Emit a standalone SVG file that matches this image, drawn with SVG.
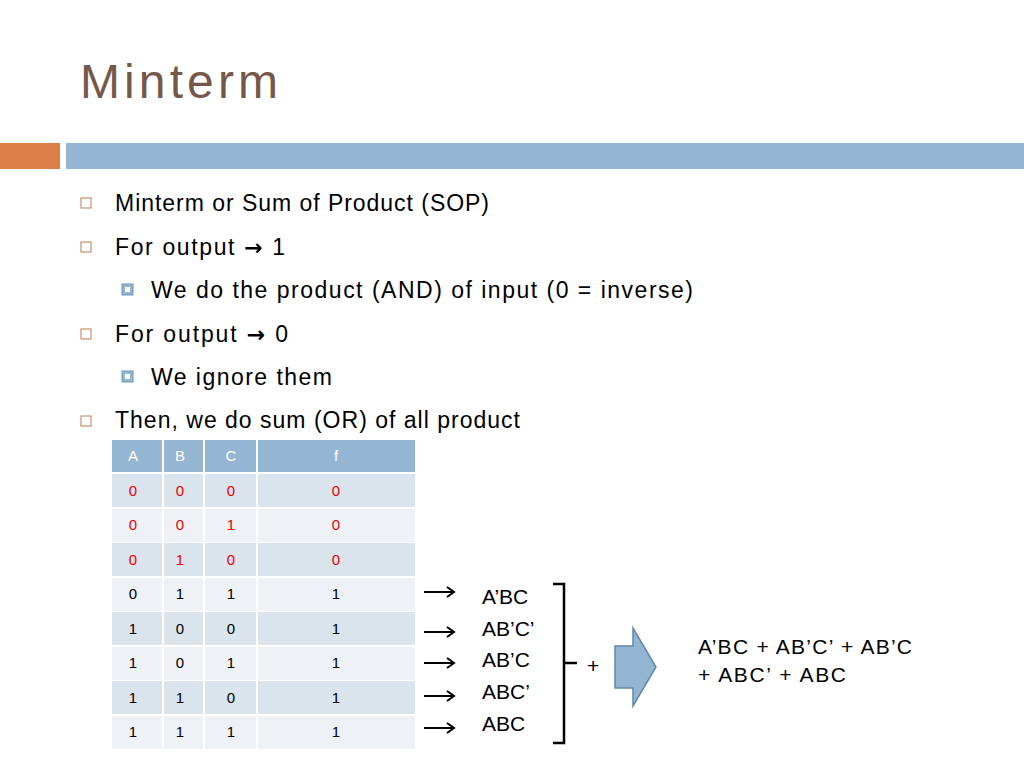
<svg xmlns="http://www.w3.org/2000/svg" width="1024" height="768" viewBox="0 0 1024 768">
<style>
text{font-family:"Liberation Sans",Arial,sans-serif;fill:#000}
.b{font-size:23px}
.ra{font-family:"DejaVu Sans",sans-serif;font-weight:bold;font-size:22px}
.t{font-size:15px;text-anchor:middle}
.h{font-size:15px;text-anchor:middle;fill:#fff}
.r{fill:#e00}
.e{font-size:21px}
.ar{stroke:#000;stroke-width:2;fill:none}
</style>
<rect width="1024" height="768" fill="#fff"/>
<text x="80" y="98" style="font-size:48px;fill:#76584a" textLength="198">Minterm</text>
<rect x="0" y="143" width="60" height="26" fill="#dd8047"/>
<rect x="66" y="143" width="958" height="26" fill="#94b6d2"/>
<g fill="none" stroke="#c8906a" stroke-width="1.2">
<rect x="81" y="198" width="10" height="10"/><rect x="81" y="242" width="10" height="10"/><rect x="81" y="329" width="10" height="10"/><rect x="81" y="416" width="10" height="10"/>
</g>
<g fill="#94b6d2" stroke="#6f93b6"><rect x="122" y="284" width="11" height="11"/><rect x="122" y="371" width="11" height="11"/></g>
<g fill="#fff"><rect x="125" y="287" width="5" height="5"/><rect x="125" y="374" width="5" height="5"/></g>
<text class="b" x="115" y="211" textLength="374">Minterm or Sum of Product (SOP)</text>
<text class="b" x="115" y="255" textLength="170">For output <tspan class="ra">→</tspan> 1</text>
<text class="b" x="151" y="298" textLength="542">We do the product (AND) of input  (0 = inverse)</text>
<text class="b" x="115" y="342" textLength="173">For output <tspan class="ra">→</tspan> 0</text>
<text class="b" x="151" y="385" textLength="181">We ignore them</text>
<text class="b" x="115" y="428" textLength="405">Then, we do sum (OR) of all product</text>
<g id="table">
<rect x="112" y="440" width="303" height="32" fill="#94b6d2"/>
<g fill="#dbe3ec"><rect x="112" y="474" width="303" height="33"/><rect x="112" y="543" width="303" height="33"/><rect x="112" y="612" width="303" height="33"/><rect x="112" y="681" width="303" height="33"/></g>
<g fill="#eef1f6"><rect x="112" y="509" width="303" height="33"/><rect x="112" y="578" width="303" height="33"/><rect x="112" y="647" width="303" height="33"/><rect x="112" y="716" width="303" height="33"/></g>
<g stroke="#fff" stroke-width="2"><line x1="163" y1="440" x2="163" y2="750"/><line x1="204" y1="440" x2="204" y2="750"/><line x1="257" y1="440" x2="257" y2="750"/></g>
<text class="h" x="133" y="461">A</text><text class="h" x="180" y="461">B</text><text class="h" x="231" y="461">C</text><text class="h" x="336" y="461">f</text>
<text class="t r" x="133" y="496">0</text><text class="t r" x="180" y="496">0</text><text class="t r" x="231" y="496">0</text><text class="t r" x="336" y="496">0</text>
<text class="t r" x="133" y="530">0</text><text class="t r" x="180" y="530">0</text><text class="t r" x="231" y="530">1</text><text class="t r" x="336" y="530">0</text>
<text class="t r" x="133" y="565">0</text><text class="t r" x="180" y="565">1</text><text class="t r" x="231" y="565">0</text><text class="t r" x="336" y="565">0</text>
<text class="t" x="133" y="599">0</text><text class="t" x="180" y="599">1</text><text class="t" x="231" y="599">1</text><text class="t" x="336" y="599">1</text>
<text class="t" x="133" y="634">1</text><text class="t" x="180" y="634">0</text><text class="t" x="231" y="634">0</text><text class="t" x="336" y="634">1</text>
<text class="t" x="133" y="668">1</text><text class="t" x="180" y="668">0</text><text class="t" x="231" y="668">1</text><text class="t" x="336" y="668">1</text>
<text class="t" x="133" y="703">1</text><text class="t" x="180" y="703">1</text><text class="t" x="231" y="703">0</text><text class="t" x="336" y="703">1</text>
<text class="t" x="133" y="737">1</text><text class="t" x="180" y="737">1</text><text class="t" x="231" y="737">1</text><text class="t" x="336" y="737">1</text>
</g>
<g id="connectors" class="ar">
<path d="M424 592H454M447 587L454 592L447 597"/>
<path d="M424 632H454M447 627L454 632L447 637"/>
<path d="M424 663H454M447 658L454 663L447 668"/>
<path d="M424 696H454M447 691L454 696L447 701"/>
<path d="M424 728H454M447 723L454 728L447 733"/>
<path d="M553 584H564V743H553M564 663H577" stroke-width="2.5"/>
</g>
<text class="e" x="482" y="604">A’BC</text>
<text class="e" x="482" y="636">AB’C’</text>
<text class="e" x="482" y="667">AB’C</text>
<text class="e" x="482" y="699">ABC’</text>
<text class="e" x="482" y="731">ABC</text>
<text class="e" x="587" y="673">+</text>
<path id="bigarrow" d="M615 646H633V628L656 667L633 706V688H615Z" fill="#94b6d2" stroke="#5f87ad" stroke-width="1.5"/>
<text class="e" x="698" y="654" textLength="214">A’BC + AB’C’ + AB’C</text>
<text class="e" x="698" y="682" textLength="148">+ ABC’ + ABC</text>
</svg>
